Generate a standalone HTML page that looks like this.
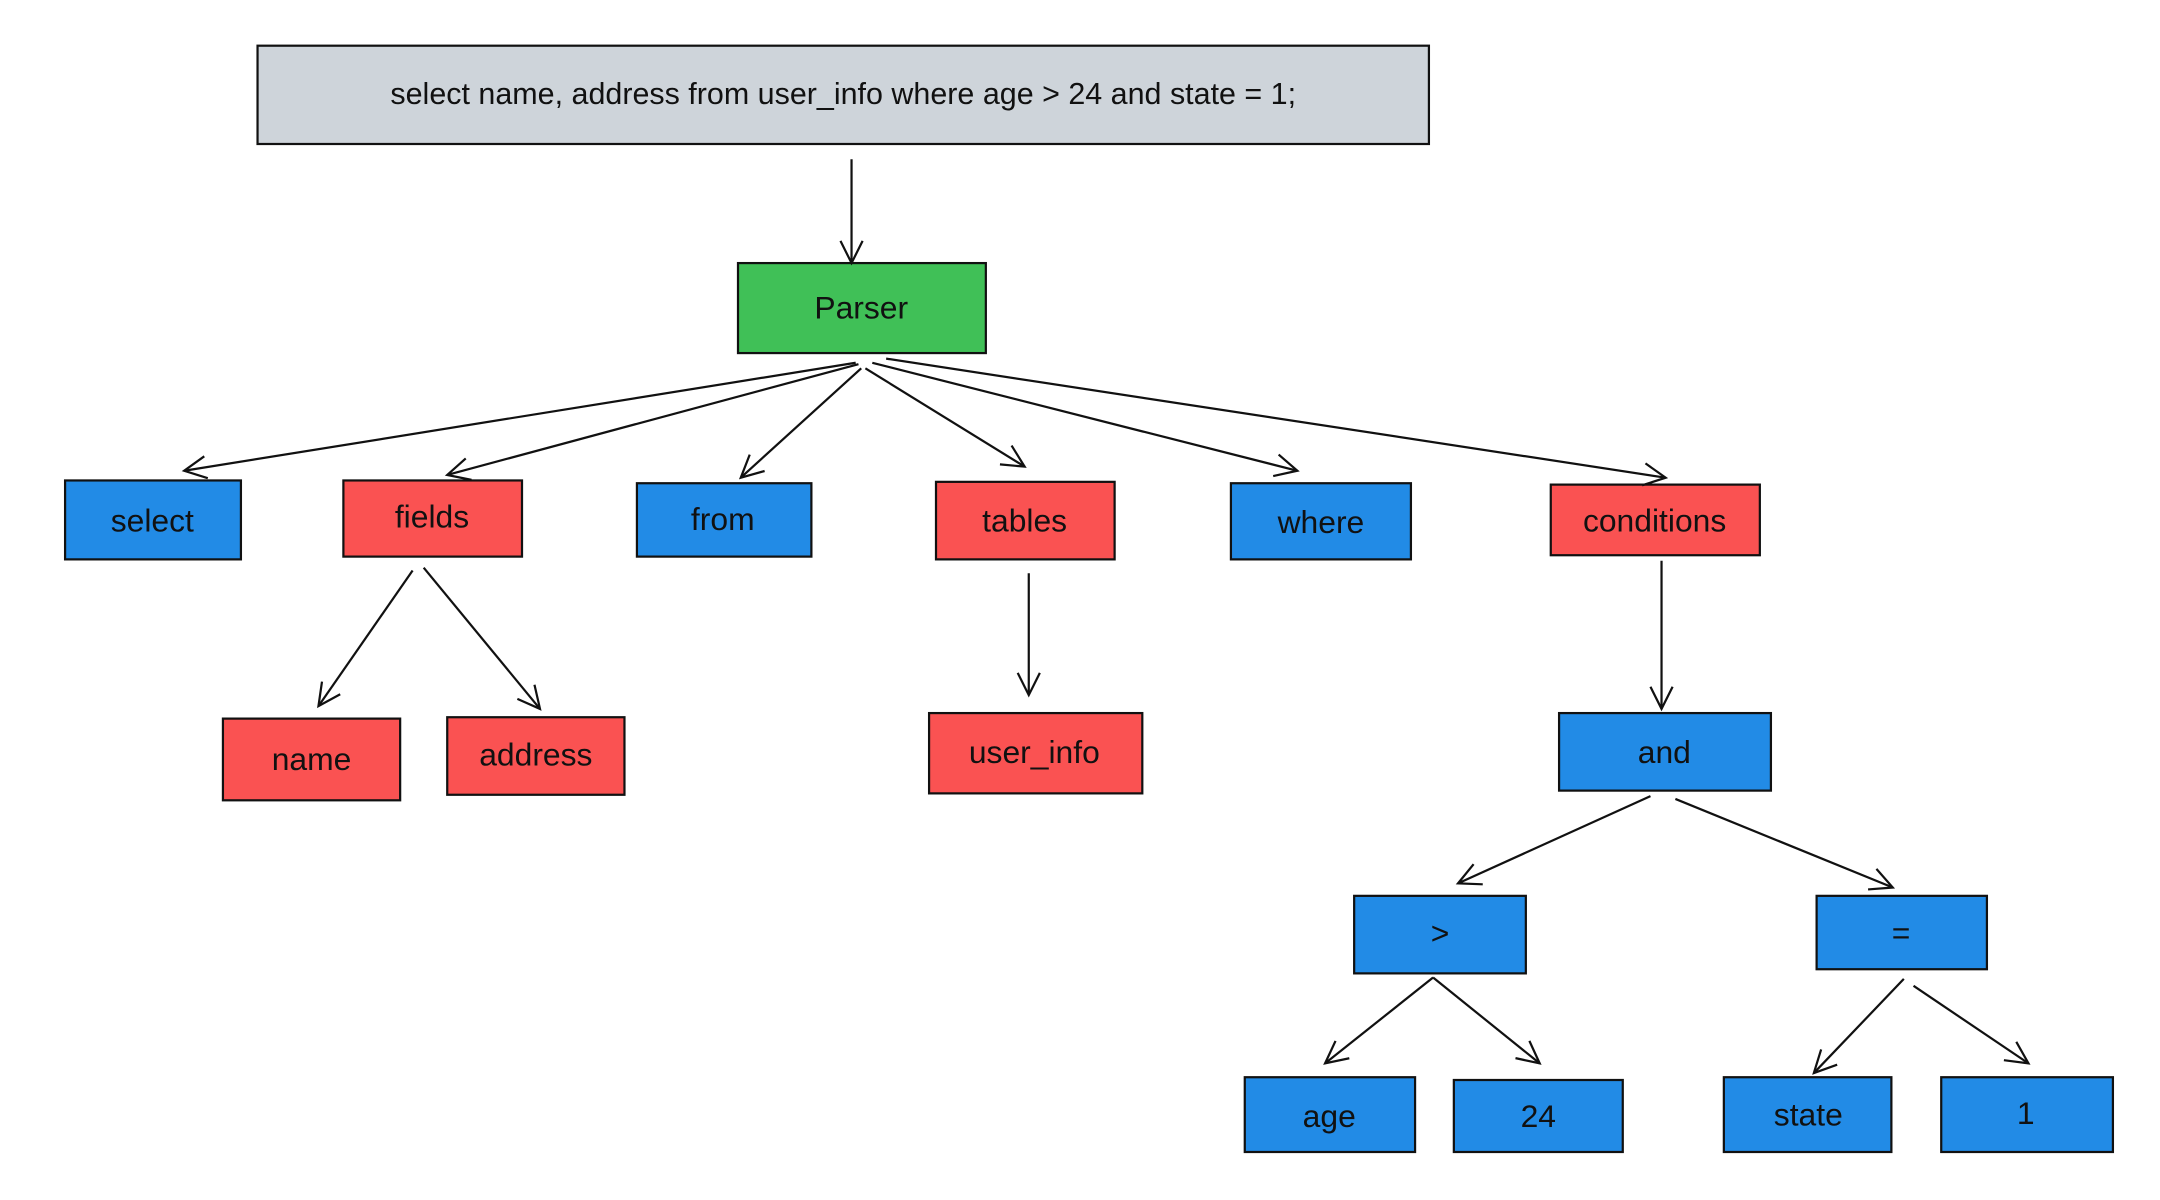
<!DOCTYPE html>
<html><head><meta charset="utf-8"><style>
html,body{margin:0;padding:0;background:#fff;width:2160px;height:1200px;overflow:hidden}
svg{display:block}
text{font-family:"Liberation Sans",sans-serif;fill:#111}
</style></head><body>
<svg width="2160" height="1200" viewBox="0 0 1560 866.67" xmlns="http://www.w3.org/2000/svg">
<defs>
<marker id="a" markerUnits="userSpaceOnUse" markerWidth="40" markerHeight="40" refX="20" refY="20" orient="auto">
<polyline points="4,12 20,20 4,28" fill="none" stroke="#111" stroke-width="1.6"/>
</marker>
</defs>
<g stroke="#111" stroke-width="1.6">
<rect x="186" y="33" width="846" height="71" fill="#ced4da"/>
<rect x="533" y="190" width="179" height="65" fill="#40c057"/>
<rect x="47" y="347" width="127" height="57" fill="#228be6"/>
<rect x="248" y="347" width="129" height="55" fill="#fa5252"/>
<rect x="460" y="349" width="126" height="53" fill="#228be6"/>
<rect x="676" y="348" width="129" height="56" fill="#fa5252"/>
<rect x="889" y="349" width="130" height="55" fill="#228be6"/>
<rect x="1120" y="350" width="151" height="51" fill="#fa5252"/>
<rect x="161" y="519" width="128" height="59" fill="#fa5252"/>
<rect x="323" y="518" width="128" height="56" fill="#fa5252"/>
<rect x="671" y="515" width="154" height="58" fill="#fa5252"/>
<rect x="1126" y="515" width="153" height="56" fill="#228be6"/>
<rect x="978" y="647" width="124" height="56" fill="#228be6"/>
<rect x="1312" y="647" width="123" height="53" fill="#228be6"/>
<rect x="899" y="778" width="123" height="54" fill="#228be6"/>
<rect x="1050" y="780" width="122" height="52" fill="#228be6"/>
<rect x="1245" y="778" width="121" height="54" fill="#228be6"/>
<rect x="1402" y="778" width="124" height="54" fill="#228be6"/>
</g>
<g stroke="#111" stroke-width="1.6" fill="none" marker-end="url(#a)">
<line x1="615" y1="115" x2="615" y2="190"/>
<line x1="618" y1="262" x2="133" y2="340"/>
<line x1="620" y1="263" x2="323" y2="343"/>
<line x1="622" y1="266" x2="535" y2="345"/>
<line x1="625" y1="266" x2="740" y2="337"/>
<line x1="630" y1="262" x2="937" y2="340"/>
<line x1="640" y1="259" x2="1203" y2="345"/>
<line x1="298" y1="412" x2="230" y2="510"/>
<line x1="306" y1="410" x2="390" y2="512"/>
<line x1="743" y1="414" x2="743" y2="502"/>
<line x1="1200" y1="405" x2="1200" y2="512"/>
<line x1="1192" y1="575" x2="1053" y2="638"/>
<line x1="1210" y1="577" x2="1367" y2="641"/>
<line x1="1035" y1="706" x2="957" y2="768"/>
<line x1="1035" y1="706" x2="1112" y2="768"/>
<line x1="1375" y1="707" x2="1310" y2="775"/>
<line x1="1382" y1="712" x2="1465" y2="768"/>
</g>
<g font-size="23" text-anchor="middle" dominant-baseline="central">
<text x="609" y="68" font-size="22">select name, address from user_info where age &gt; 24 and state = 1;</text>
<text x="622" y="222">Parser</text>
<text x="110" y="376">select</text>
<text x="312" y="373">fields</text>
<text x="522" y="375">from</text>
<text x="740" y="376">tables</text>
<text x="954" y="377">where</text>
<text x="1195" y="376">conditions</text>
<text x="225" y="548">name</text>
<text x="387" y="545">address</text>
<text x="747" y="543">user_info</text>
<text x="1202" y="543">and</text>
<text x="1040" y="674">&gt;</text>
<text x="1373" y="674">=</text>
<text x="960" y="806">age</text>
<text x="1111" y="806">24</text>
<text x="1306" y="805">state</text>
<text x="1463" y="804">1</text>
</g>
</svg>
</body></html>
